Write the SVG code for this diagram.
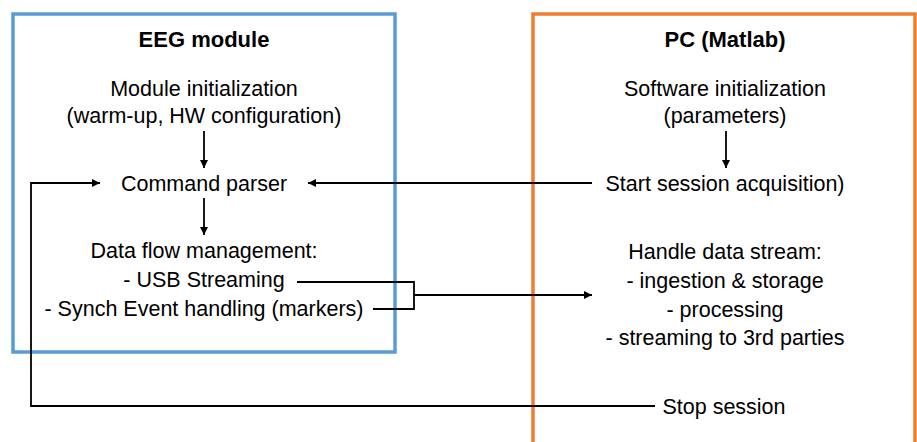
<svg xmlns="http://www.w3.org/2000/svg" width="917" height="442" viewBox="0 0 917 442">
<style>
text{font-family:"Liberation Sans",Arial,sans-serif;font-size:21.5px;fill:#000;text-anchor:middle}
.title{font-weight:bold;font-size:22px}
.box{fill:none;stroke-width:3.5}
.conn{fill:none;stroke:#000;stroke-width:1.8}
</style>
<defs>
<marker id="ah" markerUnits="userSpaceOnUse" markerWidth="8" markerHeight="8" refX="8" refY="4" orient="auto">
<path d="M0,0 L8,4 L0,8 z" fill="#000"/>
</marker>
</defs>
<rect width="917" height="442" fill="#fff"/>
<g id="eeg-module">
<rect class="box" x="13" y="14" width="382" height="338" stroke="#5B9BD5"/>
<text class="title" x="204" y="47">EEG module</text>
</g>
<g id="pc-matlab">
<rect class="box" x="533" y="14" width="382" height="440" stroke="#ED7D31"/>
<text class="title" x="725" y="47">PC (Matlab)</text>
</g>
<g id="module-init">
<text x="204" y="96">Module initialization</text>
<text x="204" y="123">(warm-up, HW configuration)</text>
</g>
<g id="command-parser">
<text x="204" y="191">Command parser</text>
</g>
<g id="data-flow">
<text x="204" y="258">Data flow management:</text>
<text x="204" y="287">- USB Streaming</text>
<text x="204" y="316">- Synch Event handling (markers)</text>
</g>
<g id="software-init">
<text x="725" y="96">Software initialization</text>
<text x="725" y="123">(parameters)</text>
</g>
<g id="start-session">
<text x="725" y="191">Start session acquisition)</text>
</g>
<g id="handle-data">
<text x="725" y="259">Handle data stream:</text>
<text x="725" y="288">- ingestion &amp; storage</text>
<text x="725" y="317">- processing</text>
<text x="725" y="345">- streaming to 3rd parties</text>
</g>
<g id="stop-session">
<text x="724" y="414">Stop session</text>
</g>
<g id="connectors">
<line class="conn" x1="204" y1="131" x2="204" y2="168" marker-end="url(#ah)"/>
<line class="conn" x1="204" y1="198" x2="204" y2="235" marker-end="url(#ah)"/>
<line class="conn" x1="726" y1="131" x2="726" y2="168" marker-end="url(#ah)"/>
<line class="conn" x1="592" y1="183" x2="308" y2="183" marker-end="url(#ah)"/>
<polyline class="conn" points="655,406 31,406 31,183 100,183" marker-end="url(#ah)"/>
<polyline class="conn" points="297,282 414,282 414,309 373,309"/>
<line class="conn" x1="414" y1="295" x2="592" y2="295" marker-end="url(#ah)"/>
</g>
</svg>
